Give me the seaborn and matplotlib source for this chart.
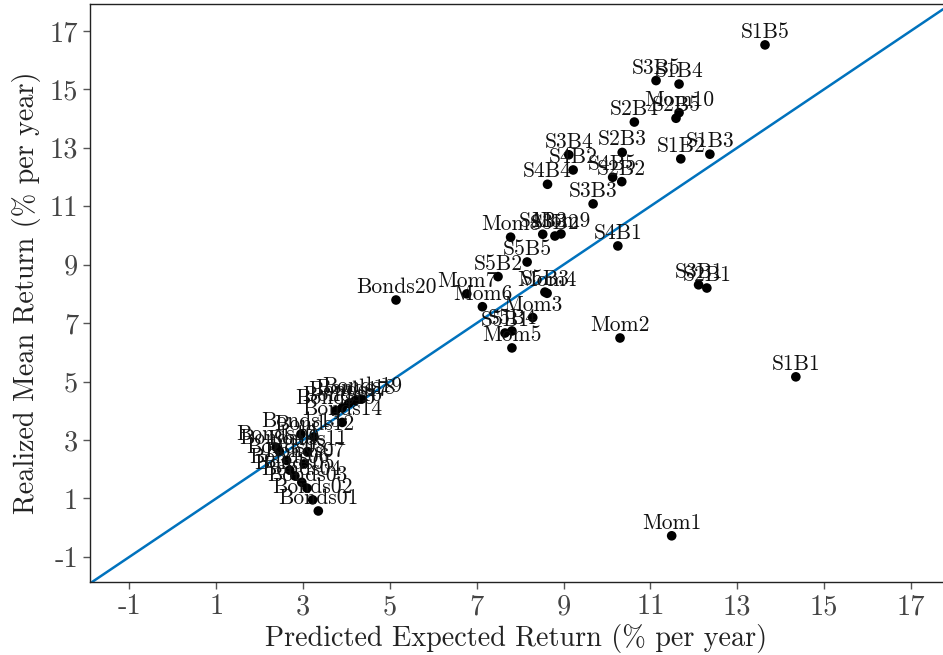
import matplotlib
matplotlib.use('Agg')
import matplotlib.pyplot as plt
import seaborn as sns
import pandas as pd

# Portfolio labels and returns (% per year)
size_bm_names = ['S1B1', 'S1B2', 'S1B3', 'S1B4', 'S1B5',
                 'S2B1', 'S2B2', 'S2B3', 'S2B4', 'S2B5',
                 'S3B1', 'S3B2', 'S3B3', 'S3B4', 'S3B5',
                 'S4B1', 'S4B2', 'S4B3', 'S4B4', 'S4B5',
                 'S5B1', 'S5B2', 'S5B3', 'S5B4', 'S5B5']
size_bm_pred = [14.35, 11.70, 12.37, 11.66, 13.64,
                12.30, 10.34, 10.35, 10.63, 11.59,
                12.11, 8.80, 9.68, 9.12, 11.13,
                10.25, 9.22, 8.52, 8.63, 10.13,
                7.65, 7.49, 8.57, 7.81, 8.16]
size_bm_real = [5.16, 12.62, 12.78, 15.18, 16.52,
                8.20, 11.84, 12.84, 13.88, 14.01,
                8.31, 9.98, 11.08, 12.76, 15.30,
                9.64, 12.24, 10.04, 11.75, 11.99,
                6.66, 8.59, 8.06, 6.73, 9.09]

mom_names = ['Mom1', 'Mom2', 'Mom3', 'Mom4', 'Mom5',
             'Mom6', 'Mom7', 'Mom8', 'Mom9', 'Mom10']
mom_pred = [11.49, 10.30, 8.29, 8.62, 7.81, 7.13, 6.77, 7.78, 8.94, 11.66]
mom_real = [-0.28, 6.49, 7.19, 8.02, 6.15, 7.56, 8.00, 9.94, 10.05, 14.20]

bond_names = ['Bonds%02d' % i for i in range(1, 21)]
bond_pred = [3.35, 3.22, 3.09, 2.97, 2.81, 2.69, 3.02, 2.62, 2.45, 2.38,
             3.10, 3.25, 2.95, 3.90, 3.75, 3.90, 4.05, 4.20, 4.35, 5.14]
bond_real = [0.57, 0.95, 1.35, 1.55, 1.77, 1.97, 2.18, 2.30, 2.62, 2.75,
             2.60, 3.10, 3.20, 3.60, 4.00, 4.10, 4.25, 4.35, 4.40, 7.79]

tick_vals = [-1, 1, 3, 5, 7, 9, 11, 13, 15, 17]
tick_labels = ['-1', '1', '3', '5', '7', '9', '11', '13', '15', '17']

df = pd.DataFrame({
    'name': size_bm_names + mom_names + bond_names,
    'pred': size_bm_pred + mom_pred + bond_pred,
    'real': size_bm_real + mom_real + bond_real,
})

sns.set_style('ticks')
plt.rcParams['font.family'] = ['cmr10', 'DejaVu Serif']
plt.rcParams['axes.unicode_minus'] = False

fig = plt.figure(figsize=(9.43, 6.55), dpi=100)
ax = fig.add_axes([0.0954, 0.1115, 0.9046, 0.8824])

# 45-degree reference line
ax.axline((0, 0), slope=1, color='#0072BD', lw=1.8, zorder=1)
sns.scatterplot(data=df, x='pred', y='real', color='black', s=48,
                edgecolor='none', ax=ax, zorder=2)

for _, r in df.iterrows():
    ax.annotate(r['name'], (r['pred'], r['real']), xytext=(0, 5),
                textcoords='offset points', ha='center', va='baseline',
                fontsize=15.5, color='#111111')

ax.set_xlim(-1.91, 17.74)
ax.set_ylim(-1.86, 17.92)
ax.set_xticks(tick_vals)
ax.set_xticklabels(tick_labels)
ax.set_yticks(tick_vals)
ax.set_yticklabels(tick_labels)
ax.tick_params(labelsize=20.5, colors='#555555', labelcolor='#444444', length=5, width=1)
ax.set_xlabel('Predicted Expected Return (% per year)', fontsize=20.3, color='#222222', labelpad=3)
ax.set_ylabel('Realized Mean Return (% per year)', fontsize=20.3, color='#222222', labelpad=6)
for sp in ['left', 'bottom', 'top']:
    ax.spines[sp].set_color('#222222')
    ax.spines[sp].set_linewidth(1)
ax.spines['right'].set_visible(False)

fig.savefig('out.png', dpi=100)
